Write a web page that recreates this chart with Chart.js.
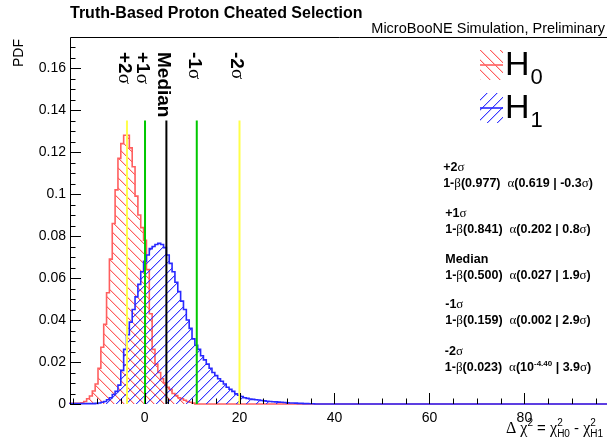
<!DOCTYPE html>
<html>
<head>
<meta charset="utf-8">
<script src="https://cdn.jsdelivr.net/npm/chart.js@4/dist/chart.umd.min.js"></script>
<style>
  html, body { margin: 0; padding: 0; background: #fff; }
  #c { display: block; }
</style>
</head>
<body>
<canvas id="c" width="607" height="444"></canvas>
<script>
// Histogram binning (delta chi-square, width of one bin)
const binWidth = 0.6;

// H0 pseudo-experiment distribution (normalised, per unit delta chi2)
const h0Start = -13.4;
const h0Density = [
  0.0003, 0.0006, 0.0012, 0.0025, 0.0038, 0.0062, 0.0095, 0.017, 0.027, 0.038,
  0.053, 0.069, 0.086, 0.102, 0.117, 0.124, 0.128, 0.128, 0.122, 0.113,
  0.099, 0.090, 0.084, 0.078, 0.064, 0.043, 0.026, 0.019, 0.015, 0.012,
  0.010, 0.008, 0.007, 0.005, 0.004, 0.003, 0.0025, 0.0018, 0.0012, 0.0008,
  0.0004
];

// H1 pseudo-experiment distribution
const h1Start = -10.4;
const h1Density = [
  0.0002, 0.0003, 0.0005, 0.0008, 0.0012, 0.002, 0.003, 0.0045, 0.006, 0.009,
  0.016, 0.026, 0.033, 0.039, 0.045, 0.051, 0.057, 0.063, 0.068, 0.071,
  0.074, 0.075, 0.076, 0.0765, 0.076, 0.0745, 0.071, 0.067, 0.063, 0.058,
  0.0535, 0.049, 0.045, 0.040, 0.036, 0.031, 0.028, 0.026, 0.023, 0.021,
  0.019, 0.017, 0.015, 0.0135, 0.012, 0.0108, 0.0095, 0.008, 0.007, 0.006,
  0.0048, 0.0042, 0.0036, 0.003, 0.0027, 0.0024, 0.0022, 0.002, 0.0019, 0.0017,
  0.0015, 0.0013, 0.0012, 0.0011, 0.001, 0.0009, 0.0008, 0.0007, 0.0006, 0.0005,
  0.0005, 0.0004, 0.0003, 0.0003, 0.0002, 0.0002, 0.0001, 0.0001
];

// Quantiles of the H1 distribution
const sigmaNames = ['+2', '+1', 'Median', '-1', '-2'];
const sigmaPositions = [-3.7, 0.1, 4.6, 11.0, 20.0];
const sigmaColors = ['#ffff4a', '#00c800', '#000000', '#00c800', '#ffff4a'];
const sigmaLineTop = 0.135;

// Power / significance summary per quantile
const powerHeads = ['+2', '+1', 'Median', '-1', '-2'];
const powerBeta = ['0.977', '0.841', '0.500', '0.159', '0.023'];
const powerAlpha = ['0.619', '0.202', '0.027', '0.002', null];
const powerAlphaExp = [null, null, null, null, '-4.40'];
const powerSigma = ['-0.3', '0.8', '1.9', '2.9', '3.9'];

// Axes
const xRange = [-15.7, 97.4];
const yRange = [0, 0.1748];
const xTickValues = [0, 20, 40, 60, 80];
const xTickLabels = ['0', '20', '40', '60', '80'];
const yTickValues = [0, 0.02, 0.04, 0.06, 0.08, 0.10, 0.12, 0.14, 0.16];
const yTickLabels = ['0', '0.02', '0.04', '0.06', '0.08', '0.1', '0.12', '0.14', '0.16'];
const xMinorStep = 5;
const yMinorStep = 0.005;

const SANS = '"Liberation Sans", Arial, Helvetica, sans-serif';
const SERIF = '"Liberation Serif", "Times New Roman", serif';

const mainCtx = document.getElementById('c').getContext('2d');

// 45-degree hatch tile built pixel by pixel
function hatchPattern(rgb, dir) {
  const s = 10;
  const tile = document.createElement('canvas');
  tile.width = s; tile.height = s;
  const g = tile.getContext('2d');
  const img = g.createImageData(s, s);
  const put = (px, py, a) => {
    const k = ((py % s) * s + (px % s)) * 4;
    img.data[k] = rgb[0]; img.data[k + 1] = rgb[1]; img.data[k + 2] = rgb[2];
    img.data[k + 3] = Math.max(img.data[k + 3], a);
  };
  for (let i = 0; i < s; i++) {
    const row = dir === 'up' ? s - 1 - i : i;
    put(i, row, 235);
    put(i + 1, row, 70);
  }
  g.putImageData(img, 0, 0);
  return mainCtx.createPattern(tile, 'repeat');
}

const red = '#ff5f5f';
const blue = '#2828ff';
const redHatch = hatchPattern([255, 80, 80], 'down');
const blueHatch = hatchPattern([40, 40, 255], 'up');

function histPoints(start, vals) {
  const pts = [{ x: xRange[0], y: 0 }];
  vals.forEach((v, i) => pts.push({ x: start + i * binWidth, y: v }));
  pts.push({ x: start + vals.length * binWidth, y: 0 });
  pts.push({ x: xRange[1], y: 0 });
  return pts;
}

const datasets = [
  {
    label: 'H0', data: histPoints(h0Start, h0Density), stepped: 'after',
    borderColor: red, borderWidth: 1.6, backgroundColor: redHatch, fill: 'origin',
    pointRadius: 0, order: 2, clip: false
  },
  {
    label: 'H1', data: histPoints(h1Start, h1Density), stepped: 'after',
    borderColor: blue, borderWidth: 1.6, backgroundColor: blueHatch, fill: 'origin',
    pointRadius: 0, order: 1, clip: false
  }
];
sigmaPositions.forEach((p, i) => {
  datasets.push({
    label: sigmaNames[i], data: [{ x: p, y: 0 }, { x: p, y: sigmaLineTop }],
    borderColor: sigmaColors[i], borderWidth: 2, pointRadius: 0, fill: false, order: 0
  });
});

function drawRich(ctx, x, y, parts) {
  for (const p of parts) {
    ctx.font = p.font;
    ctx.fillText(p.t, x, y + (p.dy || 0));
    x += ctx.measureText(p.t).width + (p.gap || 0);
  }
  return x;
}
function richWidth(ctx, parts) {
  let w = 0;
  for (const p of parts) { ctx.font = p.font; w += ctx.measureText(p.t).width + (p.gap || 0); }
  return w;
}

const framePlugin = {
  id: 'frame',
  beforeDraw(chart) {
    const ctx = chart.ctx;
    ctx.save();
    ctx.fillStyle = '#fff';
    ctx.fillRect(0, 0, chart.width, chart.height);
    ctx.restore();
  },
  afterDatasetsDraw(chart) {
    const ctx = chart.ctx;
    const a = chart.chartArea;
    const xs = chart.scales.x, ys = chart.scales.y;
    ctx.save();
    ctx.strokeStyle = '#000';
    ctx.lineWidth = 1;
    // frame
    ctx.beginPath();
    ctx.moveTo(a.right + 1, a.top + 0.5); ctx.lineTo(a.left + 0.5, a.top + 0.5);
    ctx.lineTo(a.left + 0.5, a.bottom);
    ctx.stroke();
    // y ticks (inside)
    ctx.beginPath();
    for (let v = yRange[0]; v <= yRange[1] + 1e-9; v += yMinorStep) {
      const py = Math.round(ys.getPixelForValue(v)) + 0.5;
      const major = yTickValues.some(t => Math.abs(t - v) < 1e-6);
      ctx.moveTo(a.left, py); ctx.lineTo(a.left + (major ? 11 : 5.5), py);
    }
    // x ticks (inside)
    for (let v = Math.ceil(xRange[0] / xMinorStep) * xMinorStep; v <= xRange[1]; v += xMinorStep) {
      const px = Math.round(xs.getPixelForValue(v)) + 0.5;
      const major = xTickValues.includes(v);
      ctx.moveTo(px, a.bottom); ctx.lineTo(px, a.bottom - (major ? 11 : 5.5));
    }
    ctx.stroke();

    // tick labels
    ctx.fillStyle = '#000';
    ctx.font = '14px ' + SANS;
    ctx.textAlign = 'right'; ctx.textBaseline = 'middle';
    yTickValues.forEach((v, i) => ctx.fillText(yTickLabels[i], a.left - 4, ys.getPixelForValue(v)));
    ctx.textAlign = 'center';
    xTickValues.forEach((v, i) => ctx.fillText(xTickLabels[i], xs.getPixelForValue(v), a.bottom + 14));

    // axis titles
    ctx.save();
    ctx.translate(19, 39);
    ctx.rotate(-Math.PI / 2);
    ctx.textAlign = 'right'; ctx.textBaseline = 'middle';
    ctx.font = '14px ' + SANS;
    ctx.fillText('PDF', 0, 0);
    ctx.restore();

    ctx.textAlign = 'left'; ctx.textBaseline = 'alphabetic';
    const n = '15px ' + SANS, g = '16px ' + SERIF, sm = '10px ' + SANS;
    let x = 506, y = 433;
    x = drawRich(ctx, x, y, [{ t: 'Δ', font: g, gap: 4 }, { t: 'χ', font: g }, { t: '2', font: sm, dy: -7 }, { t: ' = ', font: n }, { t: 'χ', font: g }]);
    ctx.font = sm; ctx.fillText('2', x, y - 7); ctx.fillText('H0', x, y + 4);
    x += ctx.measureText('H0').width;
    x = drawRich(ctx, x, y, [{ t: ' - ', font: n }, { t: 'χ', font: g }]);
    ctx.font = sm; ctx.fillText('2', x, y - 7); ctx.fillText('H1', x, y + 4);

    // titles
    ctx.font = 'bold 16px ' + SANS;
    ctx.fillText('Truth-Based Proton Cheated Selection', 70, 18);
    ctx.font = '14.5px ' + SANS;
    ctx.textAlign = 'right';
    ctx.fillText('MicroBooNE Simulation, Preliminary', 605, 33);
    ctx.textAlign = 'left';

    // quantile labels, rotated along each line
    sigmaPositions.forEach((p, i) => {
      const px = xs.getPixelForValue(p) - 3;
      ctx.save();
      ctx.translate(px, 52);
      ctx.rotate(Math.PI / 2);
      ctx.textBaseline = 'middle';
      const parts = sigmaNames[i] === 'Median'
        ? [{ t: 'Median', font: 'bold 19px ' + SANS }]
        : [{ t: sigmaNames[i], font: 'bold 19px ' + SANS }, { t: 'σ', font: '19px ' + SERIF }];
      drawRich(ctx, 0, 0, parts);
      ctx.restore();
    });

    // power summary block
    const B = 'bold 12.5px ' + SANS, G = '13px ' + SERIF, Bs = 'bold 8px ' + SANS;
    const rowTop = [171, 217, 263, 308, 355];
    powerHeads.forEach((h, i) => {
      const line = [{ t: '1-', font: B }, { t: 'β', font: G }, { t: '(' + powerBeta[i] + ')  ', font: B }, { t: 'α', font: G }];
      if (powerAlpha[i] !== null) line.push({ t: '(' + powerAlpha[i], font: B });
      else { line.push({ t: '(10', font: B }); line.push({ t: powerAlphaExp[i], font: Bs, dy: -5 }); }
      line.push({ t: ' | ' + powerSigma[i], font: B }, { t: 'σ', font: G }, { t: ')', font: B });
      const w = richWidth(ctx, line);
      const x0 = 518 - w / 2;
      const head = h === 'Median' ? [{ t: 'Median', font: B }] : [{ t: h, font: B }, { t: 'σ', font: G }];
      drawRich(ctx, x0, rowTop[i], head);
      drawRich(ctx, x0, rowTop[i] + 16, line);
    });

    // legend
    const entries = [
      { top: 50, pat: redHatch, col: red, sub: '0' },
      { top: 93, pat: blueHatch, col: blue, sub: '1' }
    ];
    entries.forEach(e => {
      ctx.fillStyle = e.pat;
      ctx.fillRect(480, e.top, 23, 30);
      ctx.strokeStyle = e.col; ctx.lineWidth = 1.6;
      ctx.beginPath(); ctx.moveTo(480, e.top + 15); ctx.lineTo(503, e.top + 15); ctx.stroke();
      ctx.fillStyle = '#000';
      ctx.font = '34px ' + SANS;
      ctx.fillText('H', 505, e.top + 25);
      const hw = ctx.measureText('H').width;
      ctx.font = '22px ' + SANS;
      ctx.fillText(e.sub, 505 + hw + 1, e.top + 34);
    });
    ctx.restore();
  }
};

new Chart(document.getElementById('c'), {
  type: 'line',
  data: { datasets },
  options: {
    responsive: false,
    animation: false,
    devicePixelRatio: 1,
    layout: { padding: { left: 70, top: 37, right: 0, bottom: 40 } },
    plugins: { legend: { display: false }, tooltip: { enabled: false } },
    elements: { line: { tension: 0 } },
    scales: {
      x: { type: 'linear', min: xRange[0], max: xRange[1], display: false },
      y: { type: 'linear', min: yRange[0], max: yRange[1], display: false }
    }
  },
  plugins: [framePlugin]
});
</script>
</body>
</html>
